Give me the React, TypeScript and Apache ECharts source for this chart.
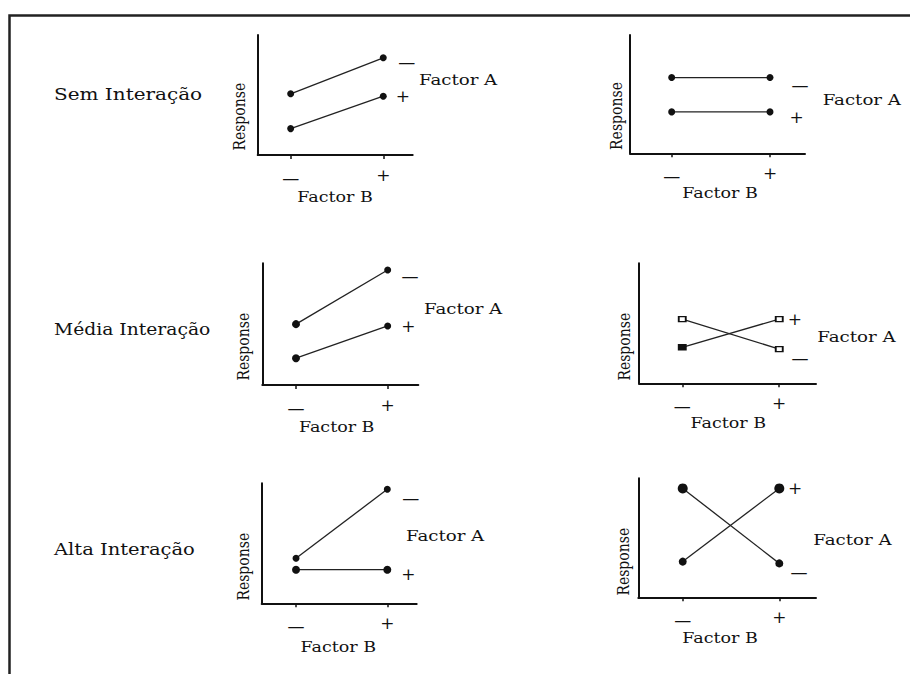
import React, { useEffect, useRef } from "react";
import * as echarts from "echarts";

// ---- tick labels / categories ----
const factorBLevels = [0, 1];
const factorBLabels = ["—", "+"];
const factorALabels = ["—", "+"];
const rowLabels = ["Sem Interação", "Média Interação", "Alta Interação"];
const responseTitle = "Response";
const factorATitle = "Factor A";
const factorBTitle = "Factor B";

// ---- series values (Response at Factor B = −, +) ----
const semInteracaoA_minus = [5.1, 8.1];
const semInteracaoA_plus = [2.2, 4.9];
const semInteracaoParalelaA_minus = [6.4, 6.4];
const semInteracaoParalelaA_plus = [3.5, 3.5];
const mediaInteracaoA_minus = [5.0, 9.45];
const mediaInteracaoA_plus = [2.2, 4.85];
const mediaCruzadaA_minus = [5.35, 2.85];
const mediaCruzadaA_plus = [3.0, 5.35];
const altaInteracaoA_minus = [3.75, 9.5];
const altaInteracaoA_plus = [2.8, 2.8];
const altaCruzadaA_minus = [9.15, 2.85];
const altaCruzadaA_plus = [3.0, 9.15];

const FONT = "'DejaVu Serif', serif";
const INK = "#111";

type Panel = {
  minus: number[];
  plus: number[];
  left: number; top: number; width: number; height: number;
  xMin: number; xMax: number;
  factorA: [number, number];
  factorB: [number, number];
  response: [number, number];
  minusOff: [number, number];
  plusOff: [number, number];
  minusSizes: number[];
  plusSizes: number[];
  symbol?: string;
  hollow?: boolean;
};

const panels: Panel[] = [
  {
    minus: semInteracaoA_minus, plus: semInteracaoA_plus,
    left: 257.7, top: 35, width: 155, height: 120, xMin: -0.356, xMax: 1.318,
    factorA: [419, 80], factorB: [335, 196.7], response: [240, 116.7],
    minusOff: [23.4, 4.4], plusOff: [19.7, 0], minusSizes: [7, 7], plusSizes: [7, 7],
  },
  {
    minus: semInteracaoParalelaA_minus, plus: semInteracaoParalelaA_plus,
    left: 630, top: 35, width: 175, height: 118.3, xMin: -0.424, xMax: 1.356,
    factorA: [822.7, 100], factorB: [720, 193.3], response: [616.7, 116],
    minusOff: [30, 7.7], plusOff: [26.7, 5], minusSizes: [7, 7], plusSizes: [7, 7],
  },
  {
    minus: mediaInteracaoA_minus, plus: mediaInteracaoA_plus,
    left: 262.3, top: 263.3, width: 156, height: 121.7, xMin: -0.3675, xMax: 1.334,
    factorA: [424, 309.3], factorB: [336.7, 427.3], response: [243.3, 346.7],
    minusOff: [22.3, 6], plusOff: [20.6, 0], minusSizes: [8, 7], plusSizes: [8, 7],
  },
  {
    minus: mediaCruzadaA_minus, plus: mediaCruzadaA_plus,
    left: 639, top: 263.3, width: 177, height: 120, xMin: -0.446, xMax: 1.379,
    factorA: [817.3, 337.3], factorB: [728.3, 423.3], response: [625, 346.7],
    minusOff: [20.7, 8.7], plusOff: [15.7, 0], minusSizes: [6, 6], plusSizes: [6, 6],
    symbol: "rect", hollow: true,
  },
  {
    minus: altaInteracaoA_minus, plus: altaInteracaoA_plus,
    left: 261.7, top: 483.3, width: 155, height: 120, xMin: -0.376, xMax: 1.322,
    factorA: [406, 536.7], factorB: [338.3, 647.3], response: [243.3, 566.7],
    minusOff: [23.4, 8.3], plusOff: [21, 4], minusSizes: [7, 7], plusSizes: [8, 8],
  },
  {
    minus: altaCruzadaA_minus, plus: altaCruzadaA_plus,
    left: 638.3, top: 478.3, width: 177.7, height: 119, xMin: -0.46, xMax: 1.38,
    factorA: [813.3, 540], factorB: [720, 638.3], response: [623.3, 561.7],
    minusOff: [19.7, 8.4], plusOff: [15.7, 0], minusSizes: [10, 8], plusSizes: [8, 10],
  },
];

const rowLabelY = [94, 329, 549];
const rowLabelScale = [1.25, 1.17, 1.22];

function buildOption() {
  const grid: any[] = [];
  const xAxis: any[] = [];
  const yAxis: any[] = [];
  const series: any[] = [];
  const graphic: any[] = [];

  graphic.push({
    type: "rect",
    silent: true,
    z: -1,
    shape: { x: 9.5, y: 15.5, width: 960, height: 720 },
    style: { fill: "none", stroke: "#222", lineWidth: 2.5 },
  });

  rowLabels.forEach((t, i) => {
    graphic.push({
      type: "text", silent: true, x: 54, y: rowLabelY[i], scaleX: rowLabelScale[i],
      style: { text: t, fontSize: 16, fontFamily: FONT, fill: INK, align: "left", verticalAlign: "middle" },
    });
  });

  panels.forEach((p, i) => {
    grid.push({ left: p.left, top: p.top, width: p.width, height: p.height, containLabel: false });
    xAxis.push({
      type: "value", gridIndex: i, min: p.xMin, max: p.xMax,
      axisLine: { show: true, onZero: false, lineStyle: { color: INK, width: 2 } },
      axisTick: { show: true, customValues: factorBLevels, length: 4, lineStyle: { color: INK, width: 1.5 } },
      axisLabel: {
        show: true, customValues: factorBLevels, margin: 11,
        formatter: (v: number) => {
          const k = factorBLevels.indexOf(Math.round(v));
          if (k < 0) return "";
          return k === 0 ? `{m|${factorBLabels[k]}}` : `{p|${factorBLabels[k]}}`;
        },
        fontSize: 17, fontFamily: FONT, color: INK,
        rich: {
          m: { fontSize: 17, fontFamily: FONT, color: INK, lineHeight: 24 },
          p: { fontSize: 17, fontFamily: FONT, color: INK, lineHeight: 17 },
        },
      },
      splitLine: { show: false },
    });
    yAxis.push({
      type: "value", gridIndex: i, min: 0, max: 10,
      axisLine: { show: true, onZero: false, lineStyle: { color: INK, width: 2 } },
      axisTick: { show: false }, axisLabel: { show: false }, splitLine: { show: false },
    });

    const mk = (vals: number[], sizes: number[], label: string, off: [number, number], isMinus: boolean) => ({
      type: "line",
      xAxisIndex: i, yAxisIndex: i,
      name: `${factorATitle} ${label}`,
      data: vals.map((v, k) => {
        const filled = !p.hollow || (isMinus ? false : k === 0);
        return {
          value: [factorBLevels[k], v],
          symbolSize: p.symbol === "rect" ? [sizes[k] + 1, sizes[k] - 1] : sizes[k],
          itemStyle: p.hollow
            ? { color: filled ? INK : "#fff", borderColor: INK, borderWidth: 1.6 }
            : { color: INK, borderColor: INK, borderWidth: 0 },
        };
      }),
      symbol: p.symbol ?? "circle",
      showSymbol: true,
      lineStyle: { color: "#222", width: 1.3 },
      itemStyle: { color: INK },
      endLabel: {
        show: true, formatter: label, distance: 0, offset: off,
        align: "center", verticalAlign: "middle",
        fontSize: 17, fontFamily: FONT, color: INK,
      },
      emphasis: { disabled: true },
      z: 3,
    });
    series.push(mk(p.minus, p.minusSizes, factorALabels[0], p.minusOff, true));
    series.push(mk(p.plus, p.plusSizes, factorALabels[1], p.plusOff, false));

    graphic.push({
      type: "text", silent: true, x: p.factorA[0], y: p.factorA[1], scaleX: 1.3,
      style: { text: factorATitle, fontSize: 14, fontFamily: FONT, fill: INK, align: "left", verticalAlign: "middle" },
    });
    graphic.push({
      type: "text", silent: true, x: p.factorB[0], y: p.factorB[1], scaleX: 1.25,
      style: { text: factorBTitle, fontSize: 14, fontFamily: FONT, fill: INK, align: "center", verticalAlign: "middle" },
    });
    graphic.push({
      type: "text", silent: true, x: p.response[0], y: p.response[1], rotation: Math.PI / 2, scaleY: 1.2,
      style: { text: responseTitle, fontSize: 14, fontFamily: FONT, fill: INK, align: "center", verticalAlign: "middle" },
    });
  });

  return {
    animation: false,
    backgroundColor: "#fff",
    grid, xAxis, yAxis, series, graphic,
  };
}

export default function App() {
  const ref = useRef<HTMLDivElement>(null);
  useEffect(() => {
    if (!ref.current) return;
    const chart = echarts.init(ref.current, undefined, { renderer: "svg" });
    chart.setOption(buildOption() as any);
    return () => chart.dispose();
  }, []);
  return (
    <div
      ref={ref}
      style={{ position: "absolute", left: 0, top: 0, width: 910, height: 674, background: "#fff" }}
    />
  );
}
